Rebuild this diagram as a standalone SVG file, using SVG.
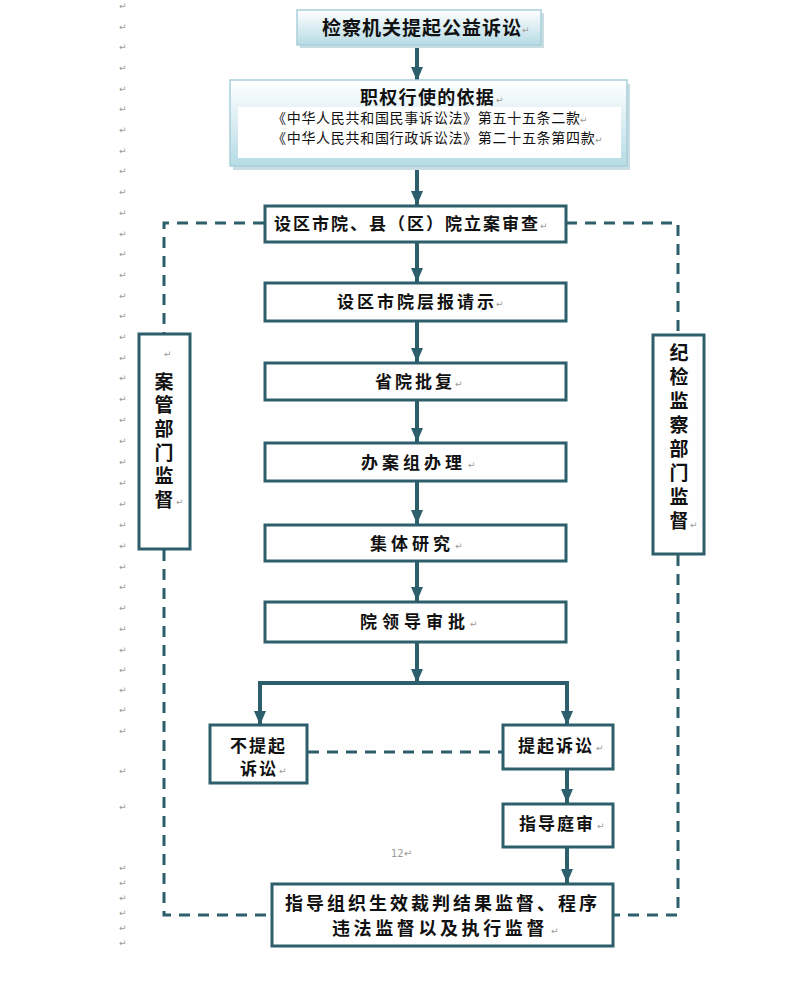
<svg xmlns="http://www.w3.org/2000/svg" width="794" height="990" viewBox="0 0 794 990">
<style>
.t{font-family:"Noto Sans CJK SC","Liberation Sans",sans-serif;font-weight:bold;fill:#111;}
.r{font-family:"Noto Sans CJK SC","Liberation Sans",sans-serif;fill:#111;}
.v{writing-mode:vertical-rl;text-orientation:upright;}
.pm{font-family:"DejaVu Sans",sans-serif;font-size:9px;fill:#999;}
.box{fill:#fff;stroke:#2d5e6b;stroke-width:3;}
.ln{stroke:#2d5e6b;stroke-width:4;fill:none;}
.ds{stroke:#2d5e6b;stroke-width:3;fill:none;stroke-dasharray:11 8;}
</style>
<defs>
<linearGradient id="g1" x1="0" y1="0" x2="0" y2="1">
<stop offset="0" stop-color="#ffffff"/>
<stop offset="1" stop-color="#b6dbe5"/>
</linearGradient>
<marker id="ah" markerUnits="userSpaceOnUse" markerWidth="14" markerHeight="12" viewBox="0 0 14 12" refX="14" refY="6" orient="auto">
<path d="M0,0 L14,6 L0,12 Z" fill="#2d5e6b"/>
</marker>
</defs>

<g id="margin-marks">
<text class="pm" x="119" y="9">↵</text><text class="pm" x="119" y="30">↵</text><text class="pm" x="119" y="50">↵</text><text class="pm" x="119" y="71">↵</text><text class="pm" x="119" y="92">↵</text><text class="pm" x="119" y="112">↵</text><text class="pm" x="119" y="133">↵</text><text class="pm" x="119" y="154">↵</text><text class="pm" x="119" y="174">↵</text><text class="pm" x="119" y="195">↵</text><text class="pm" x="119" y="216">↵</text><text class="pm" x="119" y="237">↵</text><text class="pm" x="119" y="257">↵</text><text class="pm" x="119" y="278">↵</text><text class="pm" x="119" y="299">↵</text><text class="pm" x="119" y="319">↵</text><text class="pm" x="119" y="340">↵</text><text class="pm" x="119" y="361">↵</text><text class="pm" x="119" y="381">↵</text><text class="pm" x="119" y="402">↵</text><text class="pm" x="119" y="423">↵</text><text class="pm" x="119" y="444">↵</text><text class="pm" x="119" y="465">↵</text><text class="pm" x="119" y="486">↵</text><text class="pm" x="119" y="507">↵</text><text class="pm" x="119" y="528">↵</text><text class="pm" x="119" y="549">↵</text><text class="pm" x="119" y="570">↵</text><text class="pm" x="119" y="590">↵</text><text class="pm" x="119" y="611">↵</text><text class="pm" x="119" y="632">↵</text><text class="pm" x="119" y="653">↵</text><text class="pm" x="119" y="673">↵</text><text class="pm" x="119" y="693">↵</text><text class="pm" x="119" y="713">↵</text><text class="pm" x="119" y="734">↵</text><text class="pm" x="119" y="774">↵</text><text class="pm" x="119" y="810">↵</text><text class="pm" x="119" y="871">↵</text><text class="pm" x="119" y="886">↵</text><text class="pm" x="119" y="901">↵</text><text class="pm" x="119" y="916">↵</text><text class="pm" x="119" y="931">↵</text><text class="pm" x="119" y="946">↵</text>
</g>

<g id="connectors">
<line class="ln" x1="417" y1="46" x2="417" y2="81" marker-end="url(#ah)"/>
<line class="ln" x1="417" y1="167" x2="417" y2="205" marker-end="url(#ah)"/>
<line class="ln" x1="417" y1="243" x2="417" y2="282" marker-end="url(#ah)"/>
<line class="ln" x1="417" y1="322" x2="417" y2="362" marker-end="url(#ah)"/>
<line class="ln" x1="417" y1="401" x2="417" y2="442" marker-end="url(#ah)"/>
<line class="ln" x1="417" y1="482" x2="417" y2="524" marker-end="url(#ah)"/>
<line class="ln" x1="417" y1="562" x2="417" y2="601" marker-end="url(#ah)"/>
<line class="ln" x1="417" y1="643" x2="417" y2="683" marker-end="url(#ah)"/>
<polyline class="ln" points="260,725 260,683 567,683 567,725"/>
<line class="ln" x1="260" y1="700" x2="260" y2="725" marker-end="url(#ah)"/>
<line class="ln" x1="567" y1="700" x2="567" y2="725" marker-end="url(#ah)"/>
<line class="ln" x1="567" y1="770" x2="567" y2="803" marker-end="url(#ah)"/>
<line class="ln" x1="567" y1="848" x2="567" y2="883" marker-end="url(#ah)"/>
<polyline class="ds" points="264,223 164,223 164,333"/>
<polyline class="ds" points="566,223 678,223 678,334"/>
<polyline class="ds" points="164,550 164,915 272,915"/>
<polyline class="ds" points="678,555 678,915 614,915"/>
<line class="ds" x1="308" y1="752" x2="503" y2="752"/>
</g>

<g id="n1">
<rect x="300" y="13" width="244" height="35" fill="#c9dde3"/>
<rect x="297" y="10" width="244" height="35" fill="url(#g1)" stroke="#a9cfdb" stroke-width="1.5"/>
<text class="t" x="322" y="35" font-size="19" letter-spacing="1">检察机关提起公益诉讼</text>
<text class="pm" x="522" y="33">↵</text>
</g>

<g id="n2">
<rect x="233" y="84" width="397" height="86" fill="#c9dde3"/>
<rect x="230" y="80" width="397" height="86" fill="url(#g1)" stroke="#a9cfdb" stroke-width="1.5"/>
<rect x="238" y="107" width="383" height="51" fill="#fff"/>
<text class="t" x="360" y="104" font-size="18" letter-spacing="1.3">职权行使的依据</text>
<text class="pm" x="496" y="103">↵</text>
<text class="r" x="272" y="123" font-size="14" letter-spacing="0.7">《中华人民共和国民事诉讼法》第五十五条二款</text>
<text class="pm" x="580" y="123">↵</text>
<text class="r" x="272" y="143" font-size="14" letter-spacing="0.7">《中华人民共和国行政诉讼法》第二十五条第四款</text>
<text class="pm" x="595" y="143">↵</text>
</g>

<g id="n3">
<rect class="box" x="265" y="206" width="301" height="36"/>
<text class="t" x="274" y="230" font-size="17" letter-spacing="2">设区市院、县（区）院立案审查</text>
<text class="pm" x="540" y="229">↵</text>
</g>

<g id="n4">
<rect class="box" x="265" y="283" width="301" height="38"/>
<text class="t" x="337" y="308" font-size="17" letter-spacing="3">设区市院层报请示</text>
<text class="pm" x="496" y="307">↵</text>
</g>

<g id="n5">
<rect class="box" x="265" y="363" width="301" height="37"/>
<text class="t" x="375" y="388" font-size="17" letter-spacing="3">省院批复</text>
<text class="pm" x="455" y="387">↵</text>
</g>

<g id="n6">
<rect class="box" x="265" y="443" width="301" height="38"/>
<text class="t" x="361" y="469" font-size="17" letter-spacing="4">办案组办理</text>
<text class="pm" x="468" y="468">↵</text>
</g>

<g id="n7">
<rect class="box" x="265" y="525" width="301" height="36"/>
<text class="t" x="370" y="550" font-size="17" letter-spacing="4">集体研究</text>
<text class="pm" x="455" y="549">↵</text>
</g>

<g id="n8">
<rect class="box" x="265" y="602" width="301" height="40"/>
<text class="t" x="360" y="628" font-size="17" letter-spacing="5">院领导审批</text>
<text class="pm" x="470" y="627">↵</text>
</g>

<g id="n9">
<rect class="box" x="210" y="725" width="97" height="58"/>
<text class="t" x="230" y="752" font-size="17" letter-spacing="2">不提起</text>
<text class="t" x="240" y="775" font-size="17" letter-spacing="2">诉讼</text>
<text class="pm" x="279" y="774">↵</text>
</g>

<g id="n10">
<rect class="box" x="503" y="725" width="110" height="44"/>
<text class="t" x="518" y="752" font-size="17" letter-spacing="2">提起诉讼</text>
<text class="pm" x="596" y="751">↵</text>
</g>

<g id="n11">
<rect class="box" x="503" y="804" width="110" height="43"/>
<text class="t" x="519" y="830" font-size="17" letter-spacing="2">指导庭审</text>
<text class="pm" x="597" y="829">↵</text>
</g>

<g id="n12">
<rect class="box" x="272" y="884" width="341" height="62"/>
<text class="t" x="285" y="910" font-size="18" letter-spacing="3">指导组织生效裁判结果监督、程序</text>
<text class="t" x="332" y="935" font-size="18" letter-spacing="3.6">违法监督以及执行监督</text>
<text class="pm" x="551" y="934">↵</text>
</g>

<g id="n13">
<rect class="box" x="139" y="334" width="51" height="215"/>
<text class="pm" x="164" y="357">↵</text>
<text class="t v" x="164" y="372" font-size="19" letter-spacing="4.6">案管部门监督</text>
<text class="pm" x="176" y="505">↵</text>
</g>

<g id="n14">
<rect class="box" x="653" y="335" width="51" height="219"/>
<text class="t v" x="679" y="343" font-size="19" letter-spacing="5.1">纪检监察部门监督</text>
<text class="pm" x="690" y="528">↵</text>
</g>

<text class="pm" x="391" y="857" style="font-size:10px">12↵</text>
</svg>
